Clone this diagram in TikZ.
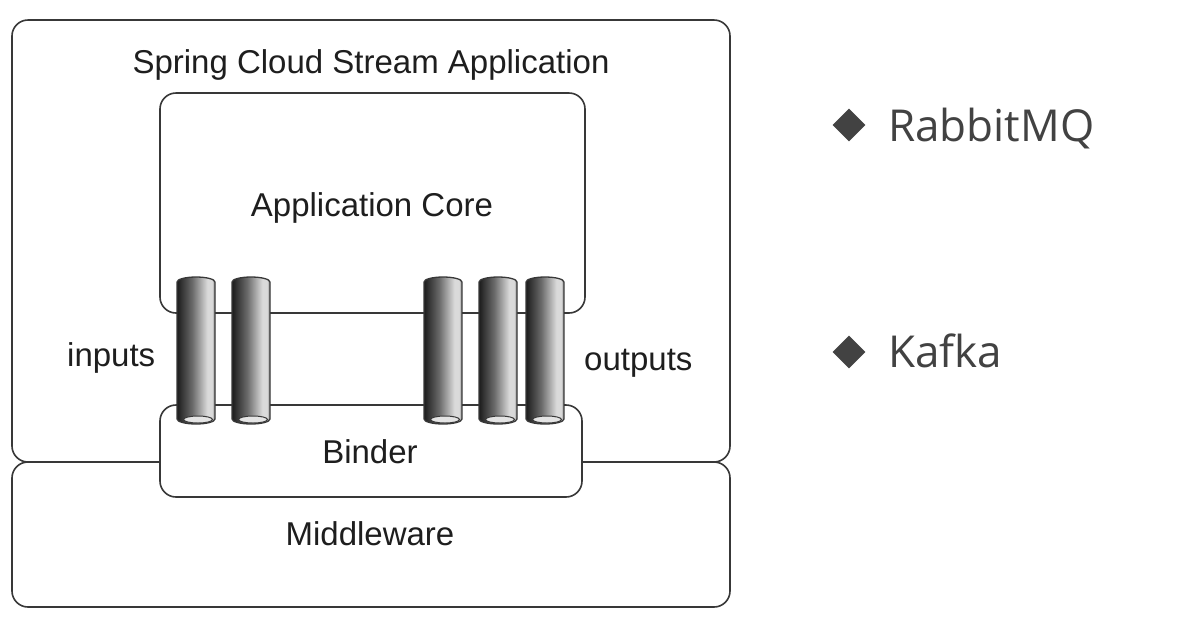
\documentclass[tikz,border=0pt]{standalone}
\usepackage{fontspec}
\setmainfont{Liberation Sans}
\newfontfamily\bulletfont{Open Sans}
\usetikzlibrary{shapes.geometric}
\definecolor{linec}{HTML}{383838}
\definecolor{txtc}{HTML}{1E1E1E}
\definecolor{bulc}{HTML}{424242}
\definecolor{pipeA}{HTML}{1C1C1C}
\definecolor{pipeB}{HTML}{6A6A6A}
\definecolor{pipeC}{HTML}{DADADA}
\definecolor{pipeD}{HTML}{8C8C8C}
\definecolor{innerc}{HTML}{E4E4E4}
\pgfdeclarehorizontalshading{pipeshade}{100bp}{color(0bp)=(pipeA); color(25bp)=(pipeA); color(45bp)=(pipeB); color(65bp)=(pipeC); color(71bp)=(pipeC); color(75bp)=(pipeD); color(100bp)=(pipeD)}
\tikzset{
  box/.style={draw=linec, line width=1.6pt, rounded corners=16pt, fill=white, inner sep=0pt, outer sep=0pt},
  lbl/.style={text=txtc, font=\fontsize{33}{38}\selectfont, inner sep=0pt},
  bul/.style={text=bulc, font=\bulletfont\fontsize{44}{50}\selectfont, inner sep=0pt},
  diam/.style={diamond, fill=bulc, inner sep=0pt, minimum size=33pt},
  pipestyle/.style={shading=pipeshade, draw=linec, line width=1.3pt},
}
\begin{document}
\begin{tikzpicture}[x=1pt,y=1pt]
\useasboundingbox (0,0) rectangle (1184,-641);
\fill[white] (0,0) rectangle (1184,-641);
% boxes
\node[box, minimum width=718pt, minimum height=442pt] (app) at (371,-241) {};
\node[box, minimum width=718pt, minimum height=145pt] (mw) at (371,-534.5) {};
\node[box, minimum width=425pt, minimum height=220pt] (core) at (372.5,-203) {};
\node[box, minimum width=422pt, minimum height=92pt] (binder) at (371,-451) {};
% pipes
\foreach \px in {177,232,424,479,526} {
  \shadedraw[pipestyle] (\px,-282) arc[start angle=180,end angle=0,x radius=19,y radius=5]
     -- (\px+38,-419) arc[start angle=0,end angle=-180,x radius=19,y radius=5] -- cycle;
  \draw[fill=innerc, draw=linec, line width=1pt] (\px+21,-419.5) ellipse[x radius=14.5, y radius=3.5];
}
% labels
\node[lbl, anchor=base] (title) at (371,-73) {Spring Cloud Stream Application};
\node[lbl, anchor=base] (corelbl) at (372,-216) {Application Core};
\node[lbl, anchor=base] (binderlbl) at (370,-463) {Binder};
\node[lbl, anchor=base] (mwlbl) at (370,-545) {Middleware};
\node[lbl, anchor=base west] (inlbl) at (67,-366) {inputs};
\node[lbl, anchor=base west] (outlbl) at (584,-370) {outputs};
% bullets
\node[diam] (d1) at (849,-125) {};
\node[bul, anchor=base west] (rmq) at (888,-141) {RabbitMQ};
\node[diam] (d2) at (849,-352) {};
\node[bul, anchor=base west] (kafka) at (888,-367) {Kafka};
\end{tikzpicture}
\end{document}
